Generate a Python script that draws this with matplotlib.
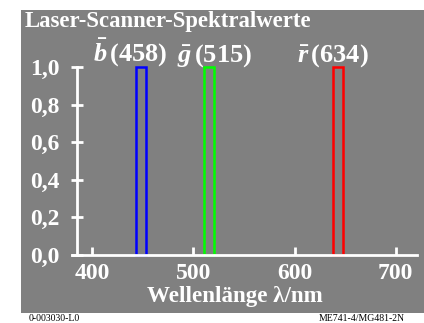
import matplotlib
matplotlib.use("Agg")
import matplotlib.pyplot as plt
from matplotlib.patches import Rectangle

# spectral lines of the laser scanner (left edge, width in nm)
line_names = ["b", "g", "r"]
line_peaks = [458, 515, 634]
line_left = [443, 510, 638]
line_width = [10, 10, 10]
line_height = [1.0, 1.0, 1.0]
line_colors = ["#0000ff", "#00ff00", "#ff0000"]
label_x = [93, 177, 297]

xticks = [400, 500, 600, 700]
yticks = [0.0, 0.2, 0.4, 0.6, 0.8, 1.0]
ytick_labels = ["0,0", "0,2", "0,4", "0,6", "0,8", "1,0"]

W, H = 424, 323
plt.rcParams["font.family"] = ["Liberation Serif", "DejaVu Serif"]
plt.rcParams["font.weight"] = "bold"
plt.rcParams["mathtext.fontset"] = "custom"
plt.rcParams["mathtext.it"] = "Liberation Serif:italic:bold"
plt.rcParams["mathtext.rm"] = "Liberation Serif:bold"

fig = plt.figure(figsize=(W / 100, H / 100), dpi=100)
fig.patch.set_facecolor("white")
bg = Rectangle((21 / W, 1 - 313 / H), 1 - 21 / W, 303 / H,
               transform=fig.transFigure, facecolor="#808080",
               edgecolor="none", zorder=-10)
fig.patches.append(bg)

ax = fig.add_axes([72 / W, 1 - 255 / H, (417 - 72) / W, (255 - 67) / H])
ax.set_facecolor("none")
ax.set_zorder(2)
ax.set_xlim(380, 721)
ax.set_ylim(0, 1.0)

for left, w, h, c in zip(line_left, line_width, line_height, line_colors):
    ax.bar(left, h, width=w, align="edge", fill=False, edgecolor=c,
           linewidth=1.8, zorder=3, clip_on=False)

for s in ["top", "right"]:
    ax.spines[s].set_visible(False)
for s in ["left", "bottom"]:
    ax.spines[s].set_color("white")
    ax.spines[s].set_linewidth(2)
    ax.spines[s].set_zorder(4)
ax.spines["left"].set_position(("data", 385))

ax.set_xticks(xticks)
ax.set_xticklabels([str(t) for t in xticks])
ax.set_yticks(yticks)
ax.set_yticklabels(ytick_labels)
ax.tick_params(axis="x", direction="in", length=6, width=2, color="white",
               labelcolor="white", labelsize=17, pad=6)
ax.tick_params(axis="y", direction="inout", length=9, width=2, color="white",
               labelcolor="white", labelsize=17, pad=8)

ax.set_xlabel("Wellenlänge λ/nm", color="white", fontsize=16.6,
              fontweight="bold")
ax.xaxis.set_label_coords(0.472, -0.165)

fig.text(25 / W, 1 - 21 / H, "Laser-Scanner-Spektralwerte", color="white",
         fontsize=16.4, fontweight="bold", va="center", ha="left")

for name, peak, lx in zip(line_names, line_peaks, label_x):
    fig.text(lx / W, 1 - 62 / H, r"$\bar{%s}\,$(%d)" % (name, peak),
             color="white", fontsize=19, fontweight="bold",
             ha="left", va="baseline")

fig.text(29 / W, 1 - 314 / H, "0-003030-L0", color="black", fontsize=7,
         va="top", ha="left", fontweight="normal")
fig.text(405 / W, 1 - 314 / H, "ME741-4/MG481-2N", color="black", fontsize=7,
         va="top", ha="right", fontweight="normal")

fig.savefig("out.png", dpi=100)
